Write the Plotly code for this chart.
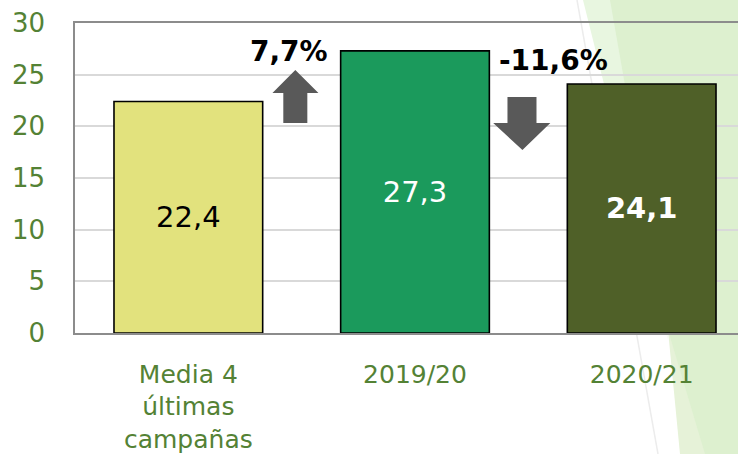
import plotly.graph_objects as go

# ---- data ----
categories = ["Media 4<br>últimas<br>campañas", "2019/20", "2020/21"]
values = [22.4, 27.3, 24.1]
value_labels = ["22,4", "27,3", "<b>24,1</b>"]
bar_colors = ["#e2e27d", "#1b9a5c", "#4f6028"]
label_colors = ["#000000", "#ffffff", "#ffffff"]
changes = ["7,7%", "-11,6%"]
y_ticks = [0, 5, 10, 15, 20, 25, 30]

x_pos = list(range(len(categories)))

W, H = 738, 454
ML, MR, MT, MB = 75, 0, 23, 121
PW, PH = W - ML - MR, H - MT - MB


def px(xp):
    return (xp - ML) / PW


def py(yp):
    return (H - MB - yp) / PH


fig = go.Figure()
fig.add_trace(go.Bar(
    x=x_pos, y=values,
    marker=dict(color=bar_colors, line=dict(color="#000000", width=1.6)),
    text=value_labels,
    textposition="inside",
    insidetextanchor="middle",
    textangle=0,
    constraintext="none",
    textfont=dict(family="DejaVu Sans", size=29, color=label_colors),
    hoverinfo="skip",
))

shapes = []
# background decoration (paper coords)
def poly(points, color, layer="below"):
    path = "M " + " L ".join(f"{px(a):.4f},{py(b):.4f}" for a, b in points) + " Z"
    return dict(type="path", path=path, xref="paper", yref="paper",
                fillcolor=color, line=dict(width=0), layer=layer)

shapes.append(poly([(583, 0), (615, 0), (668, 340)], "#e8f6e0"))
shapes.append(poly([(610, 0), (738, 0), (738, 454), (690, 454)], "#ddf0cf"))
shapes.append(poly([(668, 330), (680, 454), (705, 454)], "#e6f2d8"))
shapes.append(dict(type="line", xref="paper", yref="paper",
                   x0=px(577), y0=py(0), x1=px(658), y1=py(454),
                   line=dict(color="#ececec", width=1.5), layer="below"))

# arrows (data coords)
def arrow_path(pts):
    return "M " + " L ".join(f"{a},{b}" for a, b in pts) + " Z"

up = [(0.472, 25.45), (0.574, 23.23), (0.525, 23.23), (0.525, 20.32),
      (0.419, 20.32), (0.419, 23.23), (0.371, 23.23)]
down = [(1.474, 17.71), (1.597, 20.32), (1.536, 20.32), (1.536, 22.84),
        (1.408, 22.84), (1.408, 20.32), (1.345, 20.32)]
for p in (up, down):
    shapes.append(dict(type="path", path=arrow_path(p), xref="x", yref="y",
                       fillcolor="#595959", line=dict(width=0), layer="above"))

annotations = [
    dict(x=0.446, y=27.2, text=f"<b>{changes[0]}</b>", showarrow=False,
         xref="x", yref="y", font=dict(family="DejaVu Sans", size=28, color="#000000")),
    dict(x=1.61, y=26.4, text=f"<b>{changes[1]}</b>", showarrow=False,
         xref="x", yref="y", font=dict(family="DejaVu Sans", size=28, color="#000000")),
]

fig.update_layout(
    width=W, height=H,
    margin=dict(l=ML, r=MR, t=MT, b=MB, pad=0, autoexpand=False),
    paper_bgcolor="#ffffff",
    plot_bgcolor="rgba(0,0,0,0)",
    showlegend=False,
    bargap=0.344,
    shapes=shapes,
    annotations=annotations,
    font=dict(family="DejaVu Sans", color="#548235"),
    xaxis=dict(
        range=[-0.5, 2.425],
        tickvals=x_pos, ticktext=categories,
        showgrid=False, zeroline=False,
        showline=True, mirror=True, linecolor="#8c8c8c", linewidth=1.5,
        ticks="", ticklabelstandoff=18, automargin=False,
        tickfont=dict(family="DejaVu Sans", size=25, color="#548235"),
        fixedrange=True,
    ),
    yaxis=dict(
        range=[0, 30],
        tickvals=y_ticks,
        showgrid=True, gridcolor="#d9d9d9", gridwidth=1.5,
        zeroline=False,
        showline=True, linecolor="#8c8c8c", linewidth=1.5,
        ticks="", ticklabelstandoff=23, automargin=False,
        tickfont=dict(family="DejaVu Sans", size=26, color="#548235"),
        fixedrange=True,
    ),
)

fig.write_html(
    "out.html",
    config={"displayModeBar": False},
    post_script="document.body.style.margin='0';document.body.style.overflow='hidden';",
)
